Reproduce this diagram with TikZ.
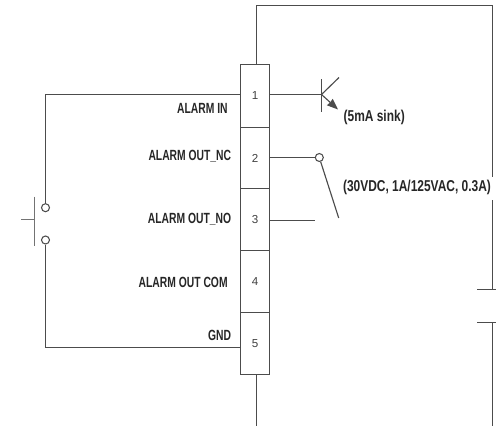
\documentclass[tikz,border=0pt]{standalone}
\usepackage{fontspec}
\setmainfont{Liberation Sans}
\usetikzlibrary{arrows.meta}
\newfontfamily\labelfont[FakeStretch=0.7]{Liberation Sans Bold}
\newfontfamily\notefont[FakeStretch=0.76]{Liberation Sans Bold}
\tikzset{
	pin/.style={draw=wire, line width=0.6pt, minimum width=0.58cm, inner sep=0pt, font=\fontsize{6.6}{8}\selectfont, text=black!75},
	wirepath/.style={draw=wire, line width=0.65pt},
	terminal/.style={circle, draw=wire, fill=white, line width=0.6pt, minimum size=0.16cm, inner sep=0pt},
	tag/.style={font=\labelfont\fontsize{8.4}{10}\selectfont, text=black!85, inner sep=0pt},
	note/.style={font=\notefont\fontsize{8.95}{10}\selectfont, text=black!85, inner sep=0pt}
}
\definecolor{wire}{gray}{0.3}
\begin{document}
\begin{tikzpicture}[x=0.02cm, y=-0.02cm]
	%%%%% START %%%%%
	\useasboundingbox (0, 0) rectangle (496, 426);

	\node[pin, minimum height=1.26cm] (pin1) at (255, 96) {1};
	\node[pin, minimum height=1.22cm] (pin2) at (255, 158) {2};
	\node[pin, minimum height=1.24cm] (pin3) at (255, 219.5) {3};
	\node[pin, minimum height=1.24cm] (pin4) at (255, 281.5) {4};
	\node[pin, minimum height=1.24cm] (pin5) at (255, 343.5) {5};

	\node[tag, anchor=east] (alarmin) at (228, 108) {ALARM IN};
	\node[tag, anchor=east] (alarmnc) at (231.5, 156.5) {ALARM OUT\_NC};
	\node[tag, anchor=east] (alarmno) at (231.5, 219) {ALARM OUT\_NO};
	\node[tag, anchor=east] (alarmcom) at (228, 282) {ALARM OUT COM};
	\node[tag, anchor=east] (gnd) at (231.5, 335.5) {GND};
	\node[note, anchor=west] (sink) at (343.3, 117.7) {(5mA sink)};
	\node[note, anchor=west] (rating) at (342.7, 187.7) {(30VDC, 1A/125VAC, 0.3A)};

	% top wire to the right hand plate
	\coordinate (topin) at (256.5, 64.5);
	\coordinate (corner) at (492.5, 5.5);
	\coordinate (gaptop) at (492.5, 177);
	\coordinate (gapbot) at (492.5, 200);
	\coordinate (plateA) at (492.5, 289.5);
	\coordinate (plateB) at (492.5, 322.5);
	\coordinate (plateAl) at (477, 289.5);
	\coordinate (plateAr) at (496, 289.5);
	\coordinate (plateBl) at (477, 322.5);
	\coordinate (plateBr) at (496, 322.5);
	\coordinate (rightend) at (492.5, 426);
	\draw[wirepath] (topin) |- (corner) -- (gaptop);
	\draw[wirepath] (gapbot) -- (plateA);
	\draw[wirepath] (plateAl) -- (plateAr);
	\draw[wirepath] (plateBl) -- (plateBr);
	\draw[wirepath] (plateB) -- (rightend);

	\coordinate (botin) at (256.5, 374.5);
	\coordinate (botend) at (256.5, 426);
	\draw[wirepath] (botin) -- (botend);

	% pin 1 transistor
	\coordinate (base) at (321.5, 94.5);
	\coordinate (basetop) at (321.5, 79);
	\coordinate (basebot) at (321.5, 111.7);
	\coordinate (coll) at (339, 77.5);
	\coordinate (emit) at (338, 109.5);
	\draw[wirepath] (pin1.east |- base) -- (base);
	\draw[wirepath] (basetop) -- (basebot);
	\draw[wirepath] (base) -- (coll);
	\draw[wirepath, -{Stealth[length=0.22cm, width=0.17cm, inset=0.3pt, fill=wire]}] (base) -- (emit);

	% pin 2 and 3 relay contact
	\node[terminal] (nc) at (319.3, 157.5) {};
	\coordinate (blade) at (338.7, 218);
	\coordinate (noend) at (315, 220.5);
	\draw[wirepath] (pin2.east |- nc) -- (nc);
	\draw[wirepath] (nc) -- (blade);
	\draw[wirepath] (pin3.east |- noend) -- (noend);

	% push button on the left
	\node[terminal] (btnA) at (45.5, 207.7) {};
	\node[terminal] (btnB) at (45.5, 240) {};
	\coordinate (inwire) at (240.5, 94.5);
	\coordinate (gndwire) at (240.5, 347.5);
	\coordinate (barTop) at (34.5, 196.7);
	\coordinate (barBot) at (34.5, 246);
	\coordinate (stem) at (21, 219.5);
	\draw[wirepath] (inwire) -| (btnA);
	\draw[wirepath] (gndwire) -| (btnB);
	\draw[wirepath, draw=black!55] (barTop) -- (barBot);
	\draw[wirepath, draw=black!55] (stem) -- (stem -| barTop);
	%%%%% END %%%%%
\end{tikzpicture}
\end{document}
